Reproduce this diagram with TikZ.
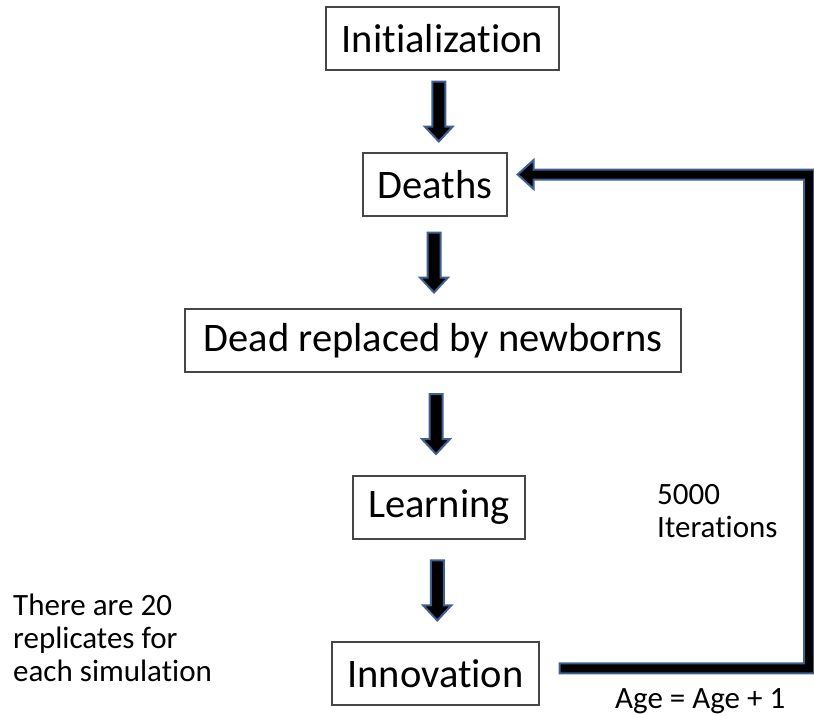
\documentclass[tikz,border=0pt]{standalone}
\usepackage{fontspec}
\setmainfont[RawFeature=-liga]{Carlito}
\usetikzlibrary{calc}
\definecolor{arrblue}{RGB}{62,96,146}
\definecolor{boxgray}{RGB}{70,70,70}
\tikzset{
  stagebox/.style={draw=boxgray, line width=1.3pt, fill=white, inner sep=0pt,
    minimum height=63pt, font=\fontsize{40.5}{45}\selectfont},
  blockarr/.style={draw=arrblue, fill=black, line width=2pt, line join=miter},
  sidetext/.style={inner sep=0pt, align=left, font=\fontsize{31}{33}\selectfont}
}
\newcommand{\blockarrow}[2]{%
  \draw[blockarr] let \p1=($(#1.south)!0.5!(#2.north)$) in
    (\x1-6.5pt,\y1+30pt) -- (\x1+6.5pt,\y1+30pt) -- (\x1+6.5pt,\y1-15pt) --
    (\x1+14pt,\y1-15pt) -- (\x1,\y1-30pt) -- (\x1-14pt,\y1-15pt) --
    (\x1-6.5pt,\y1-15pt) -- cycle;}
\begin{document}
\begin{tikzpicture}[x=1pt,y=-1pt]
\useasboundingbox (0,0) rectangle (814,715);
\node[stagebox, minimum width=233pt] (init) at (442.5,38.5) {Initialization};
\node[stagebox, minimum width=144pt] (deaths) at (435,184.5) {Deaths};
\node[stagebox, minimum width=496pt] (dead) at (433,340.5) {Dead replaced by newborns};
\node[stagebox, minimum width=172pt] (learn) at (439,507.5) {Learning};
\node[stagebox, minimum width=207pt] (inno) at (435.5,673.4) {Innovation};

\blockarrow{init}{deaths}
\blockarrow{deaths}{dead}
\blockarrow{dead}{learn}
\blockarrow{learn}{inno}

\coordinate (rx) at (809,400);
\draw[blockarr] let \p1=($(inno.east)+(20,-5)$), \p2=($(deaths.east)+(10,-10)$), \p3=(rx) in
  (\x1,\y1-5pt) -- (\x3+5pt,\y1-5pt) -- (\x3+5pt,\y2+5pt) -- (\x2+16pt,\y2+5pt) --
  (\x2+16pt,\y2+14.5pt) -- (\x2,\y2) -- (\x2+16pt,\y2-14.5pt) -- (\x2+16pt,\y2-5pt) --
  (\x3-5pt,\y2-5pt) -- (\x3-5pt,\y1+5pt) -- (\x1,\y1+5pt) -- cycle;

\node[sidetext, anchor=north west] (iter) at (657,484) {5000\\Iterations};
\node[sidetext, anchor=north west] (age) at (615,688) {Age = Age + 1};
\node[sidetext, anchor=north west] (repl) at (13,594) {There are 20\\replicates for\\each simulation};
\end{tikzpicture}
\end{document}
